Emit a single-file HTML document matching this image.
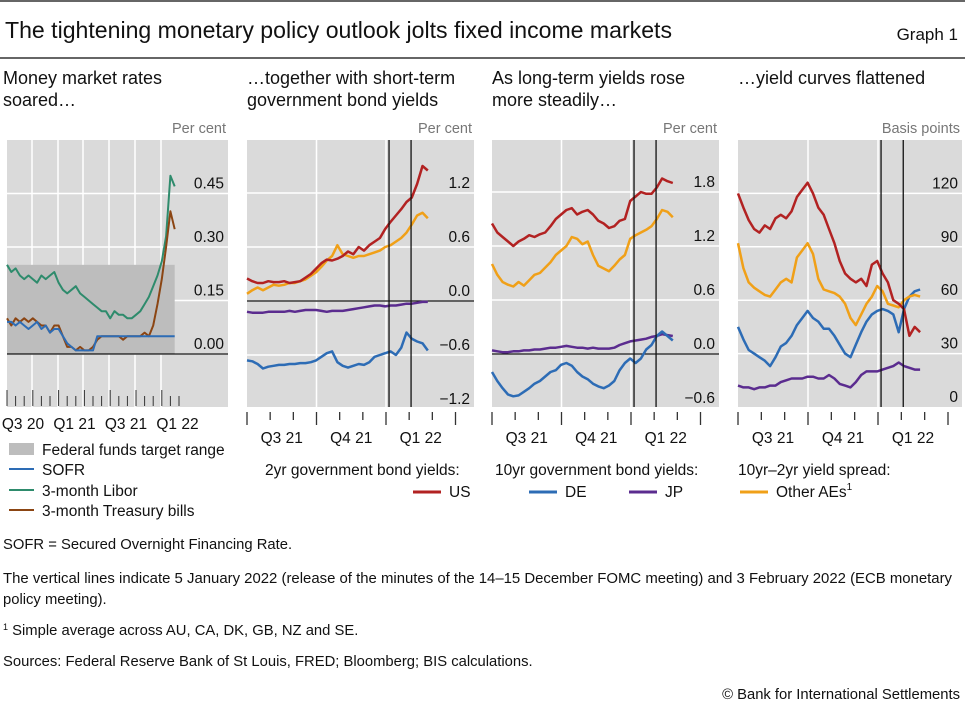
<!DOCTYPE html>
<html><head><meta charset="utf-8"><style>
body{margin:0;background:#fff;width:965px;height:711px;overflow:hidden;font-family:"Liberation Sans",sans-serif;}
svg text{font-family:"Liberation Sans",sans-serif;}
</style></head><body>
<svg id="c" width="965" height="711" xmlns="http://www.w3.org/2000/svg">
<line x1="0" y1="1" x2="965" y2="1" stroke="#333" stroke-width="1.5"/>
<text x="5" y="38" font-size="23" textLength="667" lengthAdjust="spacingAndGlyphs" fill="#111">The tightening monetary policy outlook jolts fixed income markets</text>
<text x="958" y="40" font-size="17" text-anchor="end" fill="#111">Graph 1</text>
<line x1="0" y1="58" x2="965" y2="58" stroke="#333" stroke-width="1.5"/>
<g font-size="18" fill="#111">
<text x="3" y="84"><tspan x="3">Money market rates</tspan><tspan x="3" dy="22">soared…</tspan></text>
<text x="247" y="84"><tspan x="247">…together with short-term</tspan><tspan x="247" dy="22">government bond yields</tspan></text>
<text x="492" y="84"><tspan x="492">As long-term yields rose</tspan><tspan x="492" dy="22">more steadily…</tspan></text>
<text x="738" y="84">…yield curves flattened</text>
</g>
<g id="plots"></g>
<g font-size="15.5" fill="#111">
<rect x="9" y="443" width="25" height="12" fill="#bdbdbd"/>
<text x="42" y="455">Federal funds target range</text>
<line x1="9" y1="469" x2="34" y2="469" stroke="#2d6cb5" stroke-width="2"/>
<text x="42" y="475">SOFR</text>
<line x1="9" y1="490" x2="34" y2="490" stroke="#2e8b6c" stroke-width="2"/>
<text x="42" y="496">3-month Libor</text>
<line x1="9" y1="510" x2="34" y2="510" stroke="#8b4513" stroke-width="2"/>
<text x="42" y="516">3-month Treasury bills</text>
<text x="265" y="475">2yr government bond yields:</text>
<line x1="413" y1="492" x2="441" y2="492" stroke="#b22222" stroke-width="3"/>
<text x="449" y="497">US</text>
<text x="495" y="475">10yr government bond yields:</text>
<line x1="529" y1="492" x2="557" y2="492" stroke="#2d6cb5" stroke-width="3"/>
<text x="565" y="497">DE</text>
<line x1="629" y1="492" x2="657" y2="492" stroke="#5b2c8f" stroke-width="3"/>
<text x="665" y="497">JP</text>
<text x="738" y="475">10yr–2yr yield spread:</text>
<line x1="740" y1="492" x2="768" y2="492" stroke="#f0a018" stroke-width="3"/>
<text x="776" y="497">Other AEs<tspan font-size="10" dy="-7">1</tspan></text>
</g>
<g font-size="14.8" fill="#111">
<text x="3" y="549">SOFR = Secured Overnight Financing Rate.</text>
<text x="3" y="583" textLength="949" lengthAdjust="spacingAndGlyphs">The vertical lines indicate 5 January 2022 (release of the minutes of the 14–15 December FOMC meeting) and 3 February 2022 (ECB monetary</text>
<text x="3" y="604">policy meeting).</text>
<text x="3" y="635"><tspan font-size="9" dy="-5">1</tspan><tspan dy="5">  Simple average across AU, CA, DK, GB, NZ and SE.</tspan></text>
<text x="3" y="666">Sources: Federal Reserve Bank of St Louis, FRED; Bloomberg; BIS calculations.</text>
<text x="960" y="699" text-anchor="end">© Bank for International Settlements</text>
</g>
</svg>
<script>
// Panel 1: semi-monthly points from Jul 2020 to Feb 2022
const p1Ticks = ["0.00","0.15","0.30","0.45"];
const p1TickVals = [0,0.15,0.30,0.45];
const p1Cats = ["Q3 20","Q1 21","Q3 21","Q1 22"];
const fedLow = 0, fedHigh = 0.25;
const libor = [0.25,0.23,0.24,0.22,0.21,0.22,0.21,0.2,0.22,0.21,0.22,0.23,0.2,0.18,0.17,0.18,0.19,0.17,0.16,0.15,0.14,0.13,0.12,0.12,0.1,0.12,0.11,0.11,0.1,0.1,0.11,0.12,0.14,0.16,0.19,0.22,0.26,0.33,0.5,0.47];
const tbills = [0.1,0.08,0.1,0.09,0.1,0.09,0.1,0.09,0.08,0.08,0.06,0.08,0.08,0.05,0.02,0.02,0.01,0.02,0.01,0.01,0.02,0.04,0.05,0.05,0.05,0.05,0.05,0.04,0.05,0.05,0.05,0.05,0.06,0.05,0.08,0.14,0.21,0.3,0.4,0.35];
const sofr = [0.09,0.09,0.08,0.09,0.08,0.07,0.08,0.09,0.07,0.08,0.06,0.07,0.07,0.05,0.03,0.02,0.01,0.01,0.01,0.01,0.01,0.05,0.05,0.05,0.05,0.05,0.05,0.05,0.05,0.05,0.05,0.05,0.05,0.05,0.05,0.05,0.05,0.05,0.05,0.05];
// Panels 2-4: weekly points from 1 Jul 2021
const p2Ticks = ["−1.2","−0.6","0.0","0.6","1.2"];
const p2TickVals = [-1.2,-0.6,0,0.6,1.2];
const us2 = [0.25,0.22,0.2,0.2,0.22,0.21,0.21,0.22,0.2,0.21,0.22,0.26,0.3,0.36,0.42,0.46,0.45,0.47,0.5,0.55,0.52,0.6,0.56,0.62,0.66,0.7,0.8,0.88,0.95,1.02,1.1,1.15,1.3,1.5,1.45];
const ae2 = [0.08,0.12,0.15,0.12,0.15,0.18,0.17,0.18,0.2,0.2,0.22,0.24,0.28,0.32,0.38,0.45,0.5,0.62,0.52,0.5,0.48,0.5,0.5,0.52,0.54,0.56,0.6,0.62,0.66,0.7,0.76,0.85,0.95,0.98,0.92];
const de2 = [-0.66,-0.67,-0.7,-0.75,-0.73,-0.72,-0.71,-0.71,-0.7,-0.7,-0.69,-0.69,-0.68,-0.66,-0.62,-0.58,-0.56,-0.68,-0.72,-0.74,-0.72,-0.7,-0.71,-0.68,-0.62,-0.6,-0.58,-0.56,-0.6,-0.52,-0.35,-0.42,-0.45,-0.47,-0.55];
const jp2 = [-0.12,-0.13,-0.13,-0.13,-0.12,-0.12,-0.12,-0.12,-0.11,-0.12,-0.11,-0.1,-0.1,-0.1,-0.11,-0.12,-0.11,-0.11,-0.11,-0.1,-0.09,-0.08,-0.07,-0.06,-0.05,-0.05,-0.06,-0.05,-0.05,-0.04,-0.03,-0.03,-0.02,-0.01,-0.01];
const p3Ticks = ["−0.6","0.0","0.6","1.2","1.8"];
const p3TickVals = [-0.6,0,0.6,1.2,1.8];
const us10 = [1.45,1.35,1.3,1.25,1.2,1.25,1.28,1.32,1.3,1.33,1.35,1.42,1.5,1.55,1.6,1.62,1.55,1.58,1.6,1.55,1.48,1.45,1.4,1.42,1.48,1.5,1.7,1.75,1.8,1.78,1.78,1.85,1.95,1.92,1.9];
const ae10 = [1.0,0.88,0.8,0.77,0.75,0.8,0.76,0.82,0.88,0.9,0.96,1.02,1.1,1.15,1.2,1.3,1.28,1.22,1.25,1.1,0.98,0.95,0.92,0.98,1.05,1.1,1.28,1.32,1.35,1.38,1.42,1.5,1.6,1.58,1.52];
const de10 = [-0.2,-0.3,-0.38,-0.45,-0.47,-0.46,-0.42,-0.38,-0.33,-0.3,-0.25,-0.2,-0.18,-0.12,-0.1,-0.13,-0.2,-0.25,-0.28,-0.33,-0.36,-0.38,-0.35,-0.3,-0.18,-0.1,-0.05,-0.1,-0.05,0.05,0.1,0.2,0.25,0.2,0.15];
const jp10 = [0.04,0.03,0.02,0.02,0.03,0.03,0.04,0.04,0.05,0.05,0.06,0.07,0.07,0.08,0.09,0.08,0.07,0.07,0.06,0.07,0.06,0.06,0.06,0.07,0.1,0.12,0.14,0.15,0.16,0.17,0.19,0.2,0.22,0.21,0.2];
const p4Ticks = ["0","30","60","90","120"];
const p4TickVals = [0,30,60,90,120];
const usSp = [120,112,105,100,98,102,100,106,108,106,110,118,122,126,120,112,108,100,92,82,75,72,70,72,68,80,82,75,70,60,58,55,40,45,42];
const aeSp = [92,78,70,67,65,63,62,66,70,72,70,84,88,92,86,72,66,65,64,62,58,50,46,52,58,62,68,65,58,57,56,60,62,63,62];
const deSp = [45,38,32,30,28,26,23,28,34,36,40,46,50,54,50,48,44,44,40,35,30,28,35,42,48,52,54,55,54,52,42,55,62,65,66];
const jpSp = [12,11,11,10,11,11,12,12,14,15,16,16,16,17,17,16,16,18,16,13,12,11,14,18,20,20,20,21,22,23,25,23,22,21,21];
const quarterLabels = ["Q3 21","Q4 21","Q1 22"];

const NS="http://www.w3.org/2000/svg";
const root=document.getElementById('plots');
function mk(tag,attrs,parent){const e=document.createElementNS(NS,tag);for(const k in attrs)e.setAttribute(k,attrs[k]);(parent||root).appendChild(e);return e;}
function path(vals,xf,yf){return vals.map((v,i)=>(i?'L':'M')+xf(i).toFixed(1)+' '+yf(v).toFixed(1)).join(' ');}

function frame(x0,x1,top,bottom,yf,tickVals,tickLabels,unit,vgrid,zeroLine,name){
  const bg=mk('rect',{x:x0,y:top,width:x1-x0,height:bottom-top,fill:'#dadada'});
  
  
  tickVals.forEach((v,i)=>{
    const y=yf(v);
    if(y>top+1&&y<bottom-1) mk('line',{x1:x0,x2:x1,y1:y,y2:y,stroke:'#fff','stroke-width':1.5});
    const t=mk('text',{x:x1-4,y:y-5,'text-anchor':'end','font-size':15.5,fill:'#111'});
    t.textContent=tickLabels[i];
    
    
  });
  vgrid.forEach(x=>mk('line',{x1:x,x2:x,y1:top,y2:bottom,stroke:'#fff','stroke-width':1.5}));
  if(zeroLine!==null) mk('line',{x1:x0,x2:x1,y1:zeroLine,y2:zeroLine,stroke:'#111','stroke-width':1.2});
  const u=mk('text',{x:x1-2,y:top-7,'text-anchor':'end','font-size':14.5,fill:'#777'});
  u.textContent=unit;
  
  
}
function series(vals,xf,yf,color,w,name){
  const p=mk('path',{d:path(vals,xf,yf),fill:'none',stroke:color,'stroke-width':w,'stroke-linejoin':'round'});
  
  
}

// Panel 1
(function(){
  const x0=7,x1=228,top=140,bottom=407;
  const yf=v=>354-v*(53.5/0.15);
  const xf=i=>7+i*4.3;
  const vg=[32,58,83,109,135,161];
  frame(x0,x1,top,bottom,yf,p1TickVals,p1Ticks,'Per cent',vg,null,'panel1');
  const sh=mk('rect',{x:7,y:yf(fedHigh),width:xf(libor.length-1)-7,height:yf(fedLow)-yf(fedHigh),fill:'#bdbdbd'});
  
  
  mk('line',{x1:x0,x2:x1,y1:yf(0),y2:yf(0),stroke:'#111','stroke-width':1.2});
  series(libor,xf,yf,'#2e8b6c',2,'libor-line');
  series(tbills,xf,yf,'#8b4513',2,'tbills-line');
  series(sofr,xf,yf,'#2d6cb5',2,'sofr-line');
  for(let m=0;m<=20;m++){const x=7+m*8.6;mk('line',{x1:x,x2:x,y1:m%3==0?390:396,y2:406,stroke:'#333','stroke-width':1});}
  p1Cats.forEach((c,i)=>{const t=mk('text',{x:23+i*51.5,y:429,'text-anchor':'middle','font-size':15.5,fill:'#111'});t.textContent=c;
    
    });
})();

function weekly(x0,x1,yf,zeroY,tickVals,ticks,unit,lines,name,q){
  const top=140,bottom=407;
  const dayPx=q/91.5;
  const xf=i=>x0+i*7*dayPx;
  const vg=[x0+q,x0+2*q];
  frame(x0,x1,top,bottom,yf,tickVals,ticks,unit,vg,zeroY,name);
  lines.forEach(l=>series(l[0],xf,yf,l[1],2.5,l[2]));
  [x0+2*q+4*dayPx, x0+2*q+33*dayPx].forEach(x=>mk('line',{x1:x,x2:x,y1:top,y2:bottom,stroke:'#111','stroke-width':1.3}));
  for(let m=0;m<=9;m++){const x=x0+m*q/3;mk('line',{x1:x,x2:x,y1:412,y2:m%3==0?425:420,stroke:'#333','stroke-width':1.3});}
  quarterLabels.forEach((c,i)=>{const t=mk('text',{x:x0+q*(i+0.5),y:443,'text-anchor':'middle','font-size':15.5,fill:'#111'});t.textContent=c;
    
    });
}
weekly(247,474,v=>301-v*90,301,p2TickVals,p2Ticks,'Per cent',
  [[jp2,'#5b2c8f','jp-2yr-line'],[de2,'#2d6cb5','de-2yr-line'],[ae2,'#f0a018','other-aes-2yr-line'],[us2,'#b22222','us-2yr-line']],'panel2',69.5);
weekly(492,719,v=>354-v*90,354,p3TickVals,p3Ticks,'Per cent',
  [[jp10,'#5b2c8f','jp-10yr-line'],[de10,'#2d6cb5','de-10yr-line'],[ae10,'#f0a018','other-aes-10yr-line'],[us10,'#b22222','us-10yr-line']],'panel3',69.5);
weekly(738,962,v=>407-v*1.78,null,p4TickVals,p4Ticks,'Basis points',
  [[jpSp,'#5b2c8f','jp-spread-line'],[deSp,'#2d6cb5','de-spread-line'],[aeSp,'#f0a018','other-aes-spread-line'],[usSp,'#b22222','us-spread-line']],'panel4',70);
</script>
</body></html>
